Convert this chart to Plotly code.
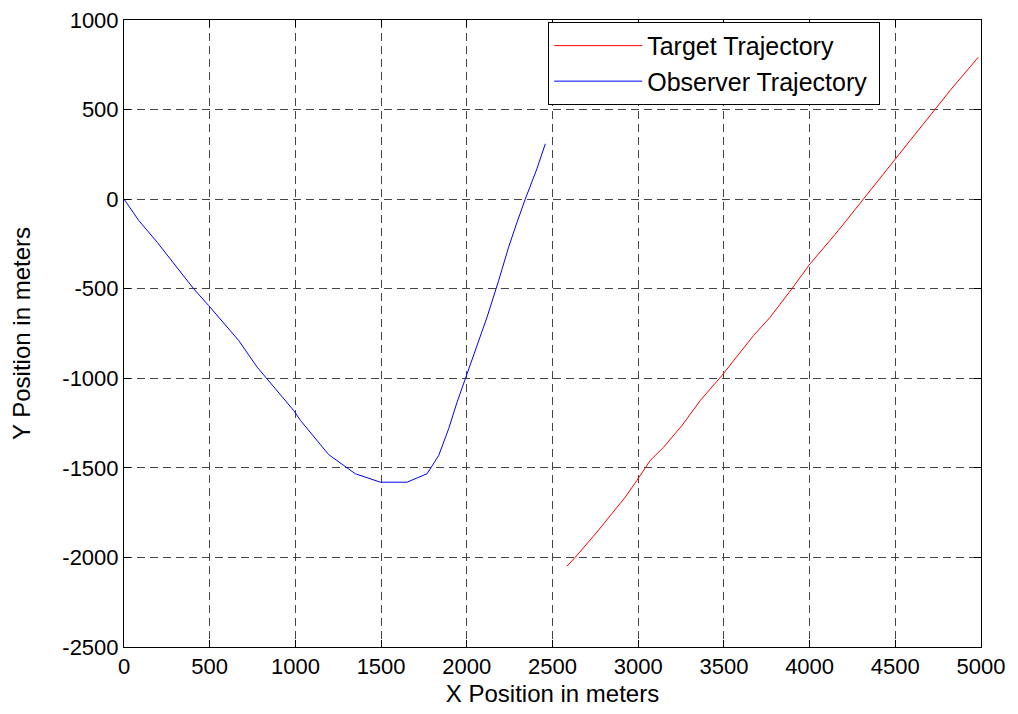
import plotly.graph_objects as go

obs_x = [0, 86, 194, 290, 407, 494, 669, 777, 835, 990, 1030, 1194, 1350, 1496, 1651, 1768, 1836, 1894, 1943, 1991, 2060, 2118, 2186, 2244, 2293, 2341, 2409, 2458]
obs_y = [0, -119, -241, -361, -501, -594, -789, -938, -1003, -1180, -1236, -1426, -1533, -1580, -1580, -1533, -1431, -1282, -1134, -1003, -808, -659, -454, -268, -129, 0, 169, 309]

tgt_x = [2584, 2633, 2759, 2837, 2924, 2992, 3070, 3148, 3255, 3362, 3488, 3673, 3770, 3896, 4003, 4168, 4314, 4499, 4586, 4742, 4819, 4984]
tgt_y = [-2049, -1999, -1859, -1766, -1664, -1571, -1459, -1385, -1264, -1124, -985, -761, -659, -501, -361, -175, 2, 225, 327, 513, 606, 792]

x_ticks = [0, 500, 1000, 1500, 2000, 2500, 3000, 3500, 4000, 4500, 5000]
y_ticks = [1000, 500, 0, -500, -1000, -1500, -2000, -2500]

fig = go.Figure()
fig.add_trace(go.Scatter(x=tgt_x, y=tgt_y, mode="lines", name="Target Trajectory",
                         line=dict(color="#ff0000", width=1)))
fig.add_trace(go.Scatter(x=obs_x, y=obs_y, mode="lines", name="Observer Trajectory ",
                         line=dict(color="#0000ff", width=1)))

fam = "Liberation Sans, Arial, sans-serif"
tick_font = dict(family=fam, size=22, color="black")
title_font = dict(family=fam, size=24, color="black")
legend_font = dict(family=fam, size=25, color="black")
axis_common = dict(showline=True, linecolor="black", linewidth=1, mirror="ticks",
                   ticks="inside", ticklen=7, tickcolor="black",
                   showgrid=True, gridcolor="#444444", gridwidth=1, griddash="8px,5px",
                   zeroline=False, tickfont=tick_font, ticklabeloverflow="allow",
                   automargin=False)

fig.update_layout(
    width=1018, height=714,
    margin=dict(l=116, r=45, t=12, b=75, pad=0),
    paper_bgcolor="white", plot_bgcolor="white",
    font=tick_font,
    showlegend=True,
    legend=dict(x=0.495, y=0.997, xanchor="left", yanchor="top",
                bgcolor="white", bordercolor="black", borderwidth=1,
                font=legend_font, itemwidth=88, tracegroupgap=0),
)
fig.update_xaxes(range=[0, 5000], tickvals=x_ticks, ticktext=[str(v) for v in x_ticks],
                 title=dict(text="X Position in meters", font=title_font, standoff=6), **axis_common)
fig.update_yaxes(range=[-2500, 1000], tickvals=y_ticks, ticktext=[str(v) for v in y_ticks],
                 title=dict(text="Y Position in meters", font=title_font, standoff=24), **axis_common)

fig.write_html("out.html")
